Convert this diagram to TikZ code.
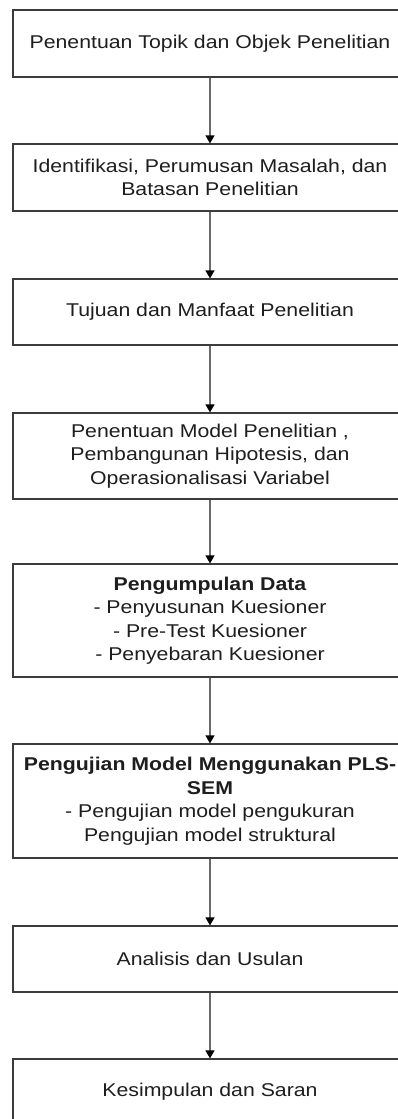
\documentclass[tikz,border=0pt]{standalone}
\usepackage{fontspec}
\setmainfont[FakeStretch=1.15]{Liberation Sans}
\usetikzlibrary{arrows.meta}
\definecolor{boxline}{HTML}{3C3C3C}
\definecolor{arrline}{HTML}{6A6A6A}
\definecolor{txt}{HTML}{1E1E1E}
\begin{document}
\begin{tikzpicture}[x=1pt,y=-1pt,
  stepbox/.style={draw=boxline, line width=1.2pt, fill=white, text=txt,
    minimum width=394pt, inner sep=0pt, align=center,
    font=\fontsize{18.5}{23.5}\selectfont},
  flow/.style={draw=arrline, line width=1.3pt,
    -{Triangle[length=8pt,width=9pt,color=black]}}]
\useasboundingbox (0,0) rectangle (398,1119);
\node[stepbox, minimum height=67pt] (b1) at (210,43.5) {Penentuan Topik dan Objek Penelitian};
\node[stepbox, minimum height=67pt] (b2) at (210,177.5) {Identifikasi, Perumusan Masalah, dan\\Batasan Penelitian};
\node[stepbox, minimum height=66pt] (b3) at (210,312) {Tujuan dan Manfaat Penelitian};
\node[stepbox, minimum height=86pt] (b4) at (210,456) {Penentuan Model Penelitian ,\\Pembangunan Hipotesis, dan\\Operasionalisasi Variabel};
\node[stepbox, minimum height=113pt] (b5) at (210,620.5) {\textbf{Pengumpulan Data}\\- Penyusunan Kuesioner\\- Pre-Test Kuesioner\\- Penyebaran Kuesioner};
\node[stepbox, minimum height=114pt] (b6) at (210,801) {\textbf{Pengujian Model Menggunakan PLS-}\\\textbf{SEM}\\- Pengujian model pengukuran\\Pengujian model struktural};
\node[stepbox, minimum height=66pt] (b7) at (210,959) {Analisis dan Usulan};
\node[stepbox, minimum height=66pt] (b8) at (210,1092) {Kesimpulan dan Saran};
\draw[flow] (b1.south) -- (b2.north);
\draw[flow] (b2.south) -- (b3.north);
\draw[flow] (b3.south) -- (b4.north);
\draw[flow] (b4.south) -- (b5.north);
\draw[flow] (b5.south) -- (b6.north);
\draw[flow] (b6.south) -- (b7.north);
\draw[flow] (b7.south) -- (b8.north);
\end{tikzpicture}
\end{document}
